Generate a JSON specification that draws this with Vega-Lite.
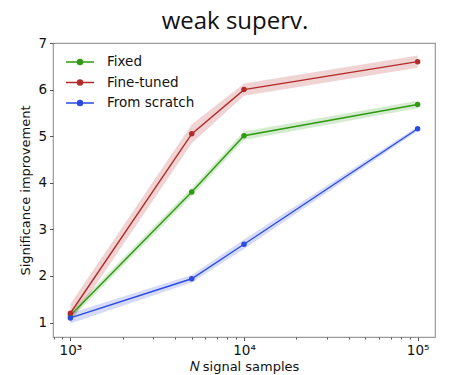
{
  "$schema": "https://vega.github.io/schema/vega-lite/v6.json",
  "width": 382,
  "height": 294,
  "autosize": {"type": "none"},
  "padding": {"left": 53, "top": 43, "right": 19, "bottom": 38},
  "background": "white",
  "title": {
    "text": "weak superv.",
    "font": "Open Sans",
    "fontSize": 24,
    "fontWeight": "normal",
    "color": "#111",
    "anchor": "middle",
    "dx": -9,
    "offset": 2
  },
  "config": {
    "view": {"stroke": "#9a9a9a", "strokeWidth": 1.2},
    "axis": {
      "labelFont": "DejaVu Sans",
      "titleFont": "DejaVu Sans",
      "labelFontSize": 13.5,
      "titleFontSize": 13,
      "titleFontWeight": "normal",
      "labelColor": "#111",
      "titleColor": "#111",
      "tickColor": "#555",
      "domain": false,
      "grid": false
    },
    "legend": {
      "labelFont": "DejaVu Sans",
      "labelFontSize": 13.5,
      "labelColor": "#111"
    }
  },
  "data": {
    "values": [
      {"N": 1000, "model": "Fixed", "v": 1.15, "lo": 1.07, "hi": 1.23},
      {"N": 5000, "model": "Fixed", "v": 3.8, "lo": 3.71, "hi": 3.89},
      {"N": 10000, "model": "Fixed", "v": 5.01, "lo": 4.92, "hi": 5.1},
      {"N": 100000, "model": "Fixed", "v": 5.68, "lo": 5.6, "hi": 5.76},
      {"N": 1000, "model": "Fine-tuned", "v": 1.2, "lo": 1.0, "hi": 1.4},
      {"N": 5000, "model": "Fine-tuned", "v": 5.05, "lo": 4.85, "hi": 5.25},
      {"N": 10000, "model": "Fine-tuned", "v": 6.0, "lo": 5.87, "hi": 6.13},
      {"N": 100000, "model": "Fine-tuned", "v": 6.6, "lo": 6.47, "hi": 6.73},
      {"N": 1000, "model": "From scratch", "v": 1.1, "lo": 0.98, "hi": 1.2},
      {"N": 5000, "model": "From scratch", "v": 1.94, "lo": 1.86, "hi": 2.02},
      {"N": 10000, "model": "From scratch", "v": 2.68, "lo": 2.58, "hi": 2.78},
      {"N": 100000, "model": "From scratch", "v": 5.16, "lo": 5.11, "hi": 5.21}
    ]
  },
  "encoding": {
    "x": {
      "field": "N",
      "type": "quantitative",
      "scale": {"type": "log", "domain": [794.3, 125893], "nice": false},
      "axis": {
        "title": "𝑁 signal samples",
        "titlePadding": 3,
        "values": [800, 900, 1000, 2000, 3000, 4000, 5000, 6000, 7000, 8000, 9000, 10000, 20000, 30000, 40000, 50000, 60000, 70000, 80000, 90000, 100000],
        "labelExpr": "datum.value == 1000 ? '10³' : datum.value == 10000 ? '10⁴' : datum.value == 100000 ? '10⁵' : ''",
        "tickSize": {"condition": {"test": "datum.value == 1000 || datum.value == 10000 || datum.value == 100000", "value": 3.5}, "value": 2},
        "labelPadding": 3
      }
    },
    "color": {
      "field": "model",
      "type": "nominal",
      "scale": {
        "domain": ["Fixed", "Fine-tuned", "From scratch"],
        "range": ["#2f9a12", "#b32a2a", "#2b4be3"]
      },
      "legend": {
        "title": null,
        "orient": "none",
        "legendX": 19,
        "legendY": 11,
        "symbolType": "M-2,0H2M-0.36,0A0.36,0.36 0 1,1 0.36,0A0.36,0.36 0 1,1 -0.36,0Z",
        "symbolSize": 196,
        "symbolStrokeWidth": 1.4,
        "symbolOpacity": 1,
        "labelOffset": 19,
        "rowPadding": 5.5,
        "encode": {
          "symbols": {
            "update": {
              "fill": {"scale": "color", "field": "value"},
              "stroke": {"scale": "color", "field": "value"},
              "opacity": {"value": 1}
            }
          }
        }
      }
    }
  },
  "layer": [
    {
      "mark": {"type": "area", "opacity": 0.2},
      "encoding": {
        "y": {
          "field": "lo",
          "type": "quantitative",
          "scale": {"domain": [0.69, 7.0], "nice": false, "zero": false},
          "axis": {
            "title": "Significance improvement",
            "values": [1, 2, 3, 4, 5, 6, 7],
            "tickSize": 3.5,
            "labelPadding": 3,
            "titlePadding": 5
          }
        },
        "y2": {"field": "hi"}
      }
    },
    {
      "mark": {"type": "line", "strokeWidth": 1.4},
      "encoding": {"y": {"field": "v", "type": "quantitative"}}
    },
    {
      "mark": {"type": "point", "filled": true, "size": 30, "opacity": 1},
      "encoding": {"y": {"field": "v", "type": "quantitative"}}
    }
  ]
}
